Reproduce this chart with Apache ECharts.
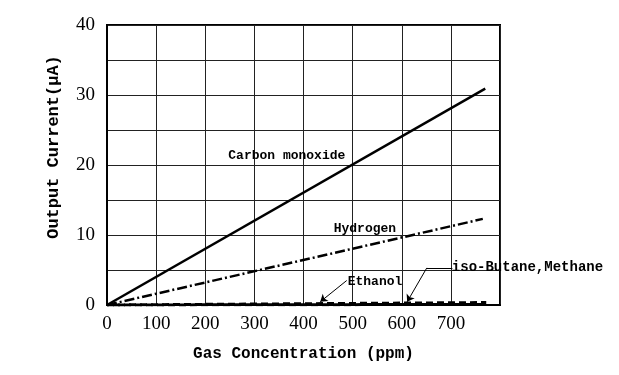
<!DOCTYPE html>
<html>
<head>
<meta charset="utf-8">
<script src="https://cdn.jsdelivr.net/npm/echarts@6/dist/echarts.min.js"></script>
<style>
  html, body { margin: 0; padding: 0; background: #fff; }
  #main { width: 619px; height: 375px; }
</style>
</head>
<body>
<div id="main"></div>
<script>
// gas concentration (ppm) end points of each response line
var coX = [0, 770];
var coY = [0, 30.9];
var h2X = [0, 765];
var h2Y = [0, 12.3];
var etX = [0, 772];
var etY = [0, 0.35];
var buX = [0, 772];
var buY = [0, 0.08];

var xTicks = [0, 100, 200, 300, 400, 500, 600, 700];
var yTicks = [0, 10, 20, 30, 40];

function pairs(xs, ys) {
    var out = [];
    for (var i = 0; i < xs.length; i++) out.push([xs[i], ys[i]]);
    return out;
}

var monoBold = { fontFamily: 'Liberation Mono', fontWeight: 'bold', color: '#000' };

var myChart = echarts.init(document.getElementById('main'));
var option = {
    animation: false,
    grid: { left: 107, top: 25, right: 119, bottom: 70, show: true, borderColor: '#000', borderWidth: 2 },
    xAxis: {
        type: 'value', min: 0, max: 800, interval: 100,
        name: 'Gas Concentration (ppm)', nameLocation: 'middle', nameGap: 41,
        nameTextStyle: { fontFamily: 'Liberation Mono', fontWeight: 'bold', fontSize: 16, color: '#000' },
        axisLine: { lineStyle: { color: '#000', width: 2 } },
        axisTick: { show: false },
        axisLabel: {
            margin: 10, fontFamily: 'Liberation Serif', fontSize: 19, color: '#000',
            formatter: function (v) { return xTicks.indexOf(v) >= 0 ? String(v) : ''; }
        },
        splitLine: { show: true, lineStyle: { color: '#222', width: 1 } }
    },
    yAxis: {
        type: 'value', min: 0, max: 40, interval: 5,
        name: 'Output Current(μA)', nameLocation: 'middle', nameGap: 45,
        nameTextStyle: { fontFamily: 'Liberation Mono', fontWeight: 'bold', fontSize: 17, color: '#000', padding: [0, 0, 0, 36] },
        axisLine: { lineStyle: { color: '#000', width: 2 } },
        axisTick: { show: false },
        axisLabel: {
            margin: 12, fontFamily: 'Liberation Serif', fontSize: 19, color: '#000',
            formatter: function (v) { return yTicks.indexOf(v) >= 0 ? String(v) : ''; }
        },
        splitLine: { show: true, lineStyle: { color: '#222', width: 1 } }
    },
    series: [
        {
            name: 'Carbon monoxide', type: 'line', symbol: 'none', data: pairs(coX, coY),
            lineStyle: { color: '#000', width: 2.5 },
            markPoint: {
                symbolSize: 0,
                label: { show: true, formatter: 'Carbon monoxide', fontSize: 13, ...monoBold },
                data: [{ coord: [366, 21.3] }]
            }
        },
        {
            name: 'Hydrogen', type: 'line', symbol: 'none', data: pairs(h2X, h2Y),
            lineStyle: { color: '#000', width: 2.5, type: [10, 3, 2, 3] },
            markPoint: {
                symbolSize: 0,
                label: { show: true, formatter: 'Hydrogen', fontSize: 13, ...monoBold },
                data: [{ coord: [525, 10.9] }]
            }
        },
        {
            name: 'Ethanol', type: 'line', symbol: 'none', data: pairs(etX, etY),
            lineStyle: { color: '#000', width: 3, type: [7, 4] },
            markPoint: {
                symbolSize: 0,
                label: { show: true, formatter: 'Ethanol', fontSize: 13, position: 'right', distance: 0, ...monoBold },
                data: [{ coord: [490, 3.3] }]
            },
            markLine: {
                symbol: ['none', 'arrow'], symbolSize: 7, silent: true,
                label: { show: false },
                lineStyle: { color: '#000', width: 1, type: 'solid' },
                data: [[{ coord: [488, 3.5] }, { coord: [434, 0.45] }]]
            }
        },
        {
            name: 'iso-Butane,Methane', type: 'line', symbol: 'none', data: pairs(buX, buY),
            lineStyle: { color: '#000', width: 3, type: [7, 4], dashOffset: 5 },
            markPoint: {
                symbolSize: 0,
                label: { show: true, formatter: 'iso-Butane,Methane', fontSize: 14, position: 'right', distance: 0, ...monoBold },
                data: [{ coord: [702, 5.3] }]
            },
            markLine: {
                symbol: ['none', 'none'], silent: true,
                label: { show: false },
                lineStyle: { color: '#000', width: 1, type: 'solid' },
                data: [
                    [{ coord: [703, 5.3] }, { coord: [651, 5.3] }]
                ]
            }
        },
        {
            name: 'leader', type: 'line', symbol: 'none', data: [],
            markLine: {
                symbol: ['none', 'arrow'], symbolSize: 7, silent: true,
                label: { show: false },
                lineStyle: { color: '#000', width: 1, type: 'solid' },
                data: [[{ coord: [651, 5.3] }, { coord: [611, 0.45] }]]
            }
        }
    ]
};
myChart.setOption(option);
</script>
</body>
</html>
